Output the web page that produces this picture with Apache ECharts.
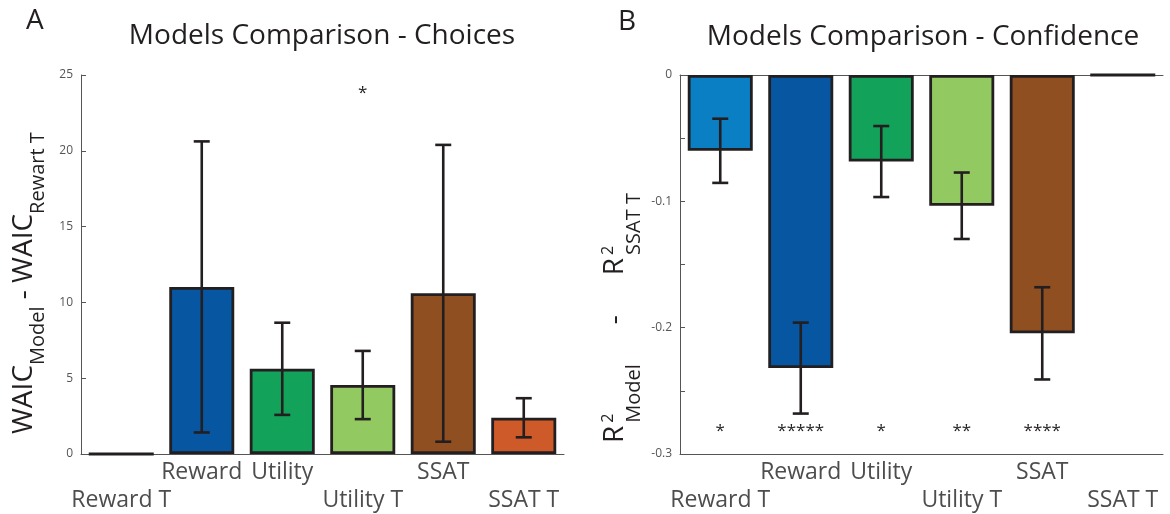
<!DOCTYPE html>
<html>
<head>
<meta charset="utf-8">
<script src="https://cdn.jsdelivr.net/npm/echarts@6/dist/echarts.min.js"></script>
<style>
  html, body { margin: 0; padding: 0; background: #fff; }
  #chart { width: 1170px; height: 514px; }
</style>
</head>
<body>
<div id="chart"></div>
<script>
// ---- data ----
const models = ['Reward T', 'Reward', 'Utility', 'Utility T', 'SSAT', 'SSAT T'];
const modelColors = ['#0a7fc4', '#0656a2', '#13a25a', '#92c960', '#904f21', '#cd5a28'];

// Panel A: WAIC difference against the "Reward T" model (mean, s.e.m.)
const waicDiff = [0, 11.02, 5.62, 4.55, 10.6, 2.39];
const waicSem = [0, 9.6, 3.04, 2.25, 9.79, 1.29];
const waicStars = ['', '', '', '*', '', ''];

// Panel B: R^2 difference against the "SSAT T" model (mean, s.e.m.)
const r2Diff = [-0.0600, -0.232, -0.0685, -0.1035, -0.2045, 0];
const r2Sem = [0.0254, 0.036, 0.0281, 0.0263, 0.0365, 0];
const r2Stars = ['*', '*****', '*', '**', '****', ''];

// axis ranges
const waicAxis = { min: 0, max: 25, step: 5 };
const r2Axis = { min: -0.3, max: 0, step: 0.05, labelStep: 0.1 };

// ---- styling helpers ----
const FONT = '"Open Sans", "Noto Sans", sans-serif';
const INK = '#231f20';
const AXIS_GREY = '#555555';

const measureCtx = document.createElement('canvas').getContext('2d');
function textWidth(str, size) {
  measureCtx.font = size + 'px ' + FONT;
  return measureCtx.measureText(str).width;
}

// Rotated (bottom-to-top) axis title built from text runs with sub/superscripts.
// Runs flagged "stack" share their start position with the following run;
// "gap" adds free space before a run.
function rotatedTitle(x, y, runs) {
  const children = [];
  let pos = 0;
  let stackStart = null;
  let stackWidth = 0;
  runs.forEach(r => {
    if (r.gap && stackStart === null) pos += r.gap;
    const start = stackStart !== null ? stackStart : pos;
    const w = textWidth(r.text, r.size);
    children.push({
      type: 'text', x: start, y: r.off || 0,
      style: { text: r.text, font: r.size + 'px ' + FONT, fill: INK, align: 'left', verticalAlign: 'middle' }
    });
    if (r.stack) {
      stackStart = start;
      stackWidth = Math.max(stackWidth, w);
    } else if (stackStart !== null) {
      pos = start + Math.max(stackWidth, w);
      stackStart = null;
      stackWidth = 0;
    } else {
      pos = start + w;
    }
  });
  return { type: 'group', x: x, y: y, rotation: Math.PI / 2, children: children };
}

function errorBarRenderer(params, api) {
  const i = api.value(0);
  const lo = api.coord([i, api.value(1)]);
  const hi = api.coord([i, api.value(2)]);
  const cap = 8;
  const style = { stroke: INK, lineWidth: 2.6, fill: null };
  return {
    type: 'group',
    children: [
      { type: 'line', shape: { x1: lo[0], y1: lo[1], x2: hi[0], y2: hi[1] }, style: style },
      { type: 'line', shape: { x1: lo[0] - cap, y1: lo[1], x2: lo[0] + cap, y2: lo[1] }, style: style },
      { type: 'line', shape: { x1: hi[0] - cap, y1: hi[1], x2: hi[0] + cap, y2: hi[1] }, style: style }
    ]
  };
}

function starRenderer(stars) {
  return function (params, api) {
    const p = api.coord([api.value(0), api.value(1)]);
    return {
      type: 'text', x: p[0], y: p[1],
      style: { text: stars[params.dataIndex], font: '17px ' + FONT, fill: INK, align: 'center', verticalAlign: 'middle' }
    };
  };
}

function barData(values) {
  return values.map((v, i) => ({ value: v, itemStyle: { color: modelColors[i] } }));
}
function errData(values, sems) {
  return values.map((v, i) => [i, v - sems[i], v + sems[i]]).filter((d, i) => sems[i] > 0);
}
function starData(stars, level) {
  return stars.map((s, i) => [i, level]);
}

function categoryAxis(gridIndex, onZero) {
  return {
    type: 'category', gridIndex: gridIndex, data: models, position: 'bottom',
    axisLine: { onZero: onZero, lineStyle: { color: AXIS_GREY, width: 1 } },
    axisTick: { inside: true, length: 5, alignWithLabel: true, lineStyle: { color: AXIS_GREY } },
    axisLabel: {
      interval: 0, margin: 4, color: '#4d4d4d', fontFamily: FONT, fontSize: 23, lineHeight: 28,
      formatter: v => (v.endsWith(' T') ? '\n' + v : v)
    },
    splitLine: { show: false }
  };
}

function valueAxis(gridIndex, range, formatter) {
  return {
    type: 'value', gridIndex: gridIndex, min: range.min, max: range.max, interval: range.step,
    axisLine: { show: true, lineStyle: { color: AXIS_GREY, width: 1 } },
    axisTick: { show: true, inside: true, length: 5, lineStyle: { color: AXIS_GREY } },
    axisLabel: { margin: 8, color: AXIS_GREY, fontFamily: FONT, fontSize: 12, formatter: formatter },
    splitLine: { show: false }
  };
}

const chart = echarts.init(document.getElementById('chart'), null, { renderer: 'canvas' });

const option = {
  animation: false,
  backgroundColor: '#ffffff',
  textStyle: { fontFamily: FONT },
  grid: [
    { left: 81, top: 75, width: 483, height: 381 },
    { left: 680, top: 75, width: 483, height: 381 }
  ],
  xAxis: [
    categoryAxis(0, true),
    categoryAxis(1, false),
    // zero line along the top of panel B
    {
      type: 'category', gridIndex: 1, data: models, position: 'top',
      axisLine: { onZero: false, lineStyle: { color: AXIS_GREY, width: 1 } },
      axisTick: { show: false }, axisLabel: { show: false }, splitLine: { show: false }
    }
  ],
  yAxis: [
    valueAxis(0, waicAxis, v => String(v)),
    valueAxis(1, r2Axis, v => {
      const k = Math.round(v / r2Axis.labelStep * 1000) / 1000;
      if (Math.abs(k - Math.round(k)) > 1e-6) return '';
      const r = Math.round(k) * r2Axis.labelStep;
      return r === 0 ? '0' : String(Math.round(r * 10) / 10);
    })
  ],
  series: [
    {
      type: 'bar', xAxisIndex: 0, yAxisIndex: 0, data: barData(waicDiff),
      barWidth: 65, itemStyle: { borderColor: INK, borderWidth: 2.8 }, z: 2
    },
    {
      type: 'custom', xAxisIndex: 0, yAxisIndex: 0, data: errData(waicDiff, waicSem),
      renderItem: errorBarRenderer, encode: { x: 0, y: [1, 2] }, z: 5, clip: false
    },
    {
      type: 'custom', xAxisIndex: 0, yAxisIndex: 0, data: starData(waicStars, 23.8),
      renderItem: starRenderer(waicStars), encode: { x: 0, y: 1 }, z: 6, clip: false
    },
    {
      type: 'bar', xAxisIndex: 1, yAxisIndex: 1, data: barData(r2Diff),
      barWidth: 65, itemStyle: { borderColor: INK, borderWidth: 2.8 }, z: 2
    },
    {
      type: 'custom', xAxisIndex: 1, yAxisIndex: 1, data: errData(r2Diff, r2Sem),
      renderItem: errorBarRenderer, encode: { x: 0, y: [1, 2] }, z: 5, clip: false
    },
    {
      type: 'custom', xAxisIndex: 1, yAxisIndex: 1, data: starData(r2Stars, -0.282),
      renderItem: starRenderer(r2Stars), encode: { x: 0, y: 1 }, z: 6, clip: false
    }
  ],
  graphic: [
    { type: 'text', x: 26, y: 21, style: { text: 'A', font: '28px ' + FONT, fill: INK, verticalAlign: 'middle' } },
    { type: 'text', x: 618, y: 22, style: { text: 'B', font: '28px ' + FONT, fill: INK, verticalAlign: 'middle' } },
    { type: 'text', x: 322, y: 36, style: { text: 'Models Comparison - Choices', font: '28px ' + FONT, fill: INK, align: 'center', verticalAlign: 'middle' } },
    { type: 'text', x: 923, y: 37, style: { text: 'Models Comparison - Confidence', font: '28px ' + FONT, fill: INK, align: 'center', verticalAlign: 'middle' } },
    rotatedTitle(24, 434, [
      { text: 'WAIC', size: 28 },
      { text: 'Model', size: 20, off: 14.7 },
      { text: ' - WAIC', size: 28 },
      { text: 'Rewart T', size: 20, off: 14.7 }
    ]),
    rotatedTitle(615, 443, [
      { text: 'R', size: 28 },
      { text: '2', size: 16, off: -7, stack: true, gap: 3 },
      { text: 'Model', size: 20, off: 19.7 },
      { text: '-', size: 28, gap: 40 },
      { text: 'R', size: 28, gap: 40 },
      { text: '2', size: 16, off: -7, stack: true, gap: 3 },
      { text: 'SSAT T', size: 20, off: 19.7 }
    ])
  ]
};

chart.setOption(option);
</script>
</body>
</html>
